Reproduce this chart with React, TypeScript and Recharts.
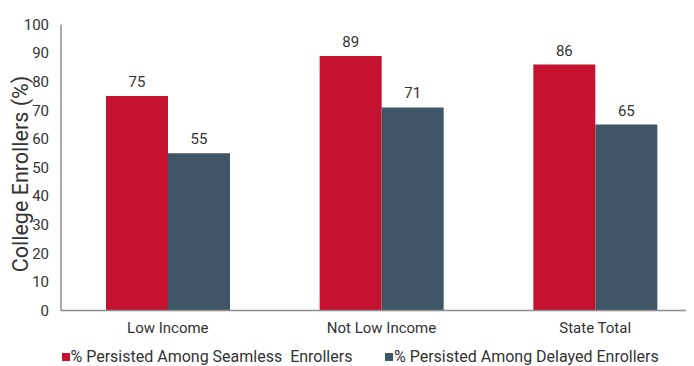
import React from "react";
import { BarChart, Bar, XAxis, YAxis, Legend, LabelList } from "recharts";

const categories = ["Low Income", "Not Low Income", "State Total"];
const seamless = [75, 89, 86];
const delayed = [55, 71, 65];
const yTicks = [0, 10, 20, 30, 40, 50, 60, 70, 80, 90, 100];
const seriesNames = [
  "% Persisted Among Seamless  Enrollers",
  "% Persisted Among Delayed Enrollers",
];

const RED = "#C41230";
const SLATE = "#3F5666";
const FONT = "Roboto, 'Noto Sans', sans-serif";

const data = categories.map((c, i) => ({
  name: c,
  seamless: seamless[i],
  delayed: delayed[i],
}));

const legendLefts = [53.5, 377];

const renderLegend = (props: any) => {
  const payload = props.payload || [];
  return (
    <div style={{ position: "relative", width: 700, height: 0 }}>
      {payload.map((p: any, i: number) => {
        const idx = p.dataKey === "delayed" ? 1 : 0;
        return (
          <div
            key={i}
            style={{
              position: "absolute",
              left: legendLefts[idx],
              top: -10,
              display: "flex",
              alignItems: "center",
              whiteSpace: "pre",
              fontFamily: FONT,
              fontSize: 16,
              color: "#333",
              lineHeight: "20px",
            }}
          >
            <span
              style={{
                display: "inline-block",
                width: 8,
                height: 8,
                background: p.color,
                marginRight: 1,
              }}
            />
            <span>{p.value}</span>
          </div>
        );
      })}
    </div>
  );
};

export default function App() {
  return (
    <div style={{ width: 686, height: 358, overflow: "hidden", position: "relative" }}>
      <BarChart
        width={700}
        height={358}
        data={data}
        margin={{ top: 16.5, right: 6, left: 0, bottom: 0 }}
        barGap={0}
        barCategoryGap={45}
      >
        <XAxis
          dataKey="name"
          axisLine={{ stroke: "#8c8c8c", strokeWidth: 1.5 }}
          tickLine={false}
          tick={{ fill: "#333", fontSize: 15, fontFamily: FONT }}
          tickMargin={6}
          height={55.5}
          interval={0}
        />
        <YAxis
          domain={[0, 100]}
          ticks={yTicks}
          interval={0}
          axisLine={{ stroke: "#8c8c8c", strokeWidth: 1.5 }}
          tickLine={false}
          tick={{ fill: "#333", fontSize: 15, fontFamily: FONT }}
          tickMargin={6}
          width={53}
          label={{
            content: () => (
              <text
                x={12}
                y={166}
                transform="rotate(-90, 12, 166)"
                textAnchor="middle"
                dominantBaseline="central"
                fill="#333"
                fontSize={21.5}
                fontFamily={FONT}
              >
                College Enrollers (%)
              </text>
            ),
          }}
        />
        <Legend
          content={renderLegend}
          wrapperStyle={{ position: "absolute", left: 0, top: 349, width: 700, height: 0 }}
        />
        <Bar dataKey="seamless" name={seriesNames[0]} fill={RED} isAnimationActive={false}>
          <LabelList
            dataKey="seamless"
            position="top"
            offset={9}
            fill="#333"
            fontSize={15}
            fontFamily={FONT}
          />
        </Bar>
        <Bar dataKey="delayed" name={seriesNames[1]} fill={SLATE} isAnimationActive={false}>
          <LabelList
            dataKey="delayed"
            position="top"
            offset={9}
            fill="#333"
            fontSize={15}
            fontFamily={FONT}
          />
        </Bar>
      </BarChart>
    </div>
  );
}
